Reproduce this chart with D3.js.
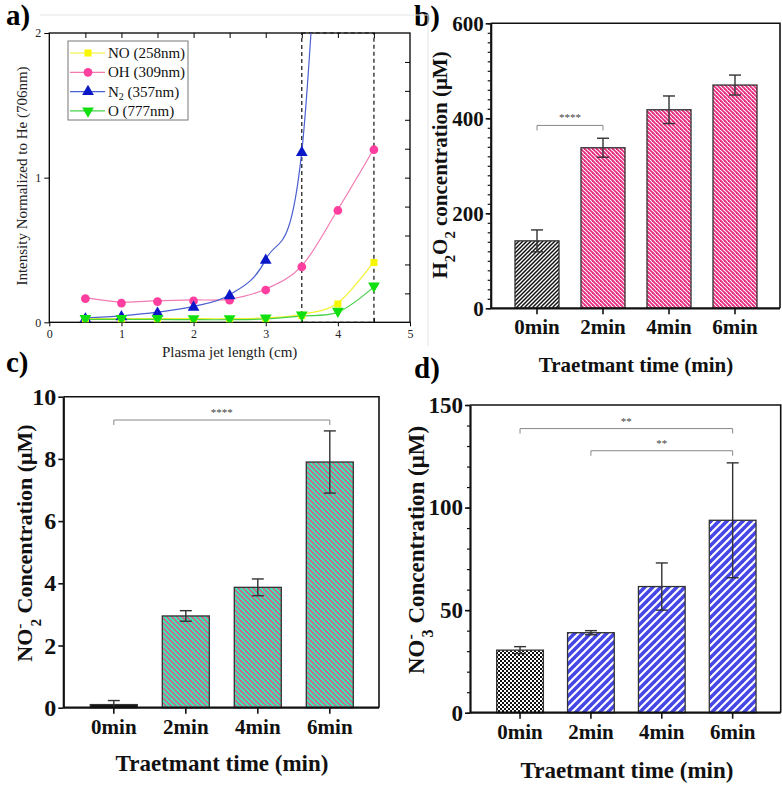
<!DOCTYPE html>
<html><head><meta charset="utf-8">
<script src="https://cdn.jsdelivr.net/npm/d3@7"></script>
<style>
body{margin:0;background:#fff}
svg{display:block}
text{font-family:"Liberation Serif","Times New Roman",serif}
</style>
</head><body>
<svg id="chart" width="782" height="785"></svg>
<script>
// ---------- data ----------
const jetLength = [0.5, 1, 1.5, 2, 2.5, 3, 3.5, 4, 4.5];
const NO  = [0.025, 0.025, 0.025, 0.025, 0.025, 0.03, 0.055, 0.134, 0.42];
const OH  = [0.17, 0.14, 0.15, 0.155, 0.16, 0.23, 0.39, 0.78, 1.20];
const N2  = [0.03, 0.045, 0.07, 0.11, 0.19, 0.435, 1.18, 5.0, 7.0];
const O   = [0.02, 0.02, 0.02, 0.018, 0.018, 0.023, 0.044, 0.07, 0.245];
const seriesNames = ["NO (258nm)", "OH (309nm)", "N2 (357nm)", "O (777nm)"];
const xTicksA = [0, 1, 2, 3, 4, 5];
const yTicksA = [0, 1, 2];

const times = ["0min", "2min", "4min", "6min"];
const h2o2    = [142, 338, 418, 470];
const h2o2Err = [23, 20, 29, 21];
const no2     = [0.1, 2.95, 3.87, 7.9];
const no2Err  = [0.13, 0.17, 0.27, 1.0];
const no3     = [30.5, 39, 61.5, 93.8];
const no3Err  = [1.7, 1.0, 11.5, 28];
const yTicksB = [0, 200, 400, 600];
const yTicksC = [0, 2, 4, 6, 8, 10];
const yTicksD = [0, 50, 100, 150];

// ---------- setup ----------
const svg = d3.select("#chart");
const defs = svg.append("defs");

// pixel-aligned diagonal stripe tile; dir "\\" or "/"
function diag(id, bg, fg, p, w, dir) {
  const pat = defs.append("pattern").attr("id", id)
    .attr("patternUnits", "userSpaceOnUse").attr("width", p).attr("height", p);
  pat.append("rect").attr("width", p).attr("height", p).attr("fill", bg);
  const h = w / 2;
  const polys = [
    [[0, 0], [h, 0], [p, p - h], [p, p], [p - h, p], [0, h]],
    [[p - h, 0], [p, 0], [p, h]],
    [[0, p - h], [0, p], [h, p]]
  ];
  const fx = dir === "/" ? (x => p - x) : (x => x);
  polys.forEach(pl => pat.append("polygon")
    .attr("points", pl.map(([x, y]) => `${fx(x)},${y}`).join(" "))
    .attr("fill", fg));
}
diag("pinkS", "#ffffff", "#e62e80", 4, 2.7, "\\");
diag("blackS", "#ffffff", "#111111", 4, 2.1, "/");
diag("tealS", "#3de6b6", "#e64e7e", 5, 1.9, "\\");
diag("blueS", "#ffffff", "#4646e6", 8, 5.0, "/");
const chk = defs.append("pattern").attr("id", "checkS")
  .attr("patternUnits", "userSpaceOnUse").attr("width", 4).attr("height", 4);
chk.append("rect").attr("width", 4).attr("height", 4).attr("fill", "#fff");
chk.append("rect").attr("width", 2).attr("height", 2).attr("fill", "#111");
chk.append("rect").attr("x", 2).attr("y", 2).attr("width", 2).attr("height", 2).attr("fill", "#111");

// panel letters
[["a)", 6, 25], ["b)", 414, 26], ["c)", 6, 372], ["d)", 414, 378]].forEach(([t, x, y]) => {
  svg.append("text").attr("x", x).attr("y", y).attr("font-size", 29)
    .attr("font-weight", "bold").text(t);
});

// ---------- panel a ----------
(function () {
  const L = 49.3, R = 410, T = 33, B = 322.3;
  const x = d3.scaleLinear().domain([0, 5]).range([L, R]);
  const y = d3.scaleLinear().domain([0, 2]).range([B, T]);
  const g = svg.append("g");

  // faint image border
  g.append("path").attr("d", `M40,15H428V346`).attr("fill", "none")
    .attr("stroke", "#e4e4e4").attr("stroke-width", 1);

  defs.append("clipPath").attr("id", "clipA").append("rect")
    .attr("x", L).attr("y", T).attr("width", R - L).attr("height", B - T);

  const style = (sel, fs) => {
    sel.select(".domain").remove();
    sel.selectAll("line").attr("stroke", "#000").attr("stroke-width", 1);
    sel.selectAll("text").attr("font-size", fs).attr("fill", "#222")
      .attr("font-family", "Liberation Serif");
  };
  const fmt = d3.format("d");
  g.append("g").attr("transform", `translate(0,${B})`)
    .call(d3.axisBottom(x).tickValues(xTicksA).tickFormat(fmt).tickSize(4).tickPadding(3))
    .call(s => style(s, 12));
  g.append("g").attr("transform", `translate(0,${B})`)
    .call(d3.axisTop(x).tickValues(d3.range(0.5, 5, 1)).tickSize(4).tickFormat(""))
    .call(s => style(s, 12));
  g.append("g").attr("transform", `translate(${L},0)`)
    .call(d3.axisLeft(y).tickValues(yTicksA).tickFormat(fmt).tickSize(5).tickPadding(3))
    .call(s => style(s, 12));
  g.append("g").attr("transform", `translate(0,${T})`)
    .call(d3.axisBottom(x).tickValues(d3.range(0.5, 5, 0.5)).tickSize(5).tickFormat(""))
    .call(s => style(s, 12));
  g.append("g").attr("transform", `translate(${R},0)`)
    .call(d3.axisLeft(y).tickValues(d3.range(0.2, 2, 0.2)).tickSize(5).tickFormat(""))
    .call(s => style(s, 12));
  g.append("rect").attr("x", L).attr("y", T).attr("width", R - L).attr("height", B - T)
    .attr("fill", "none").attr("stroke", "#000").attr("stroke-width", 1.3);

  // dashed region
  g.append("rect").attr("x", x(3.5)).attr("y", y(2)).attr("width", x(4.5) - x(3.5))
    .attr("height", y(0) - y(2)).attr("fill", "none").attr("stroke", "#111")
    .attr("stroke-width", 1.2).attr("stroke-dasharray", "4,3");

  const series = [
    { name: seriesNames[1], vals: OH, line: "#f27ab2", mark: "#ff3f9f", sym: d3.symbolCircle, size: 60, rot: 0 },
    { name: seriesNames[2], vals: N2, line: "#4a5fd0", mark: "#0a18c8", sym: d3.symbolTriangle, size: 60, rot: 0 },
    { name: seriesNames[0], vals: NO, line: "#f2f230", mark: "#f7f700", sym: d3.symbolSquare, size: 50, rot: 0 },
    { name: seriesNames[3], vals: O, line: "#46d046", mark: "#10e010", sym: d3.symbolTriangle, size: 60, rot: 180 }
  ];
  const line = d3.line().x((d, i) => x(jetLength[i])).y(d => y(d)).curve(d3.curveCardinal.tension(0));
  const plot = g.append("g").attr("clip-path", "url(#clipA)");
  series.forEach(s => {
    plot.append("path").attr("d", line(s.vals)).attr("fill", "none")
      .attr("stroke", s.line).attr("stroke-width", 1.2);
  });
  series.forEach(s => {
    plot.selectAll(null).data(s.vals).enter().append("path")
      .attr("d", d3.symbol().type(s.sym).size(s.size))
      .attr("transform", (d, i) => `translate(${x(jetLength[i])},${y(d) + (s.rot ? -1 : 1)}) rotate(${s.rot})`)
      .attr("fill", s.mark);
  });

  // legend
  const lg = g.append("g");
  lg.append("rect").attr("x", 68).attr("y", 41).attr("width", 120).attr("height", 79)
    .attr("fill", "#fff").attr("stroke", "#777").attr("stroke-width", 1);
  const legOrder = [series[2], series[0], series[1], series[3]];
  legOrder.forEach((s, i) => {
    const yy = 53 + i * 19.3;
    lg.append("line").attr("x1", 70).attr("x2", 105).attr("y1", yy).attr("y2", yy)
      .attr("stroke", s.line).attr("stroke-width", 1.2);
    lg.append("path").attr("d", d3.symbol().type(s.sym).size(s.size)())
      .attr("transform", `translate(88,${yy}) rotate(${s.rot})`).attr("fill", s.mark);
    const t = lg.append("text").attr("x", 108).attr("y", yy + 5).attr("font-size", 15).attr("fill", "#111");
    if (s.name.startsWith("N2")) {
      t.append("tspan").text("N");
      t.append("tspan").attr("font-size", 10).attr("dy", 3).text("2");
      t.append("tspan").attr("dy", -3).text(s.name.slice(2));
    } else t.text(s.name);
  });

  g.append("text").attr("x", (L + R) / 2).attr("y", 357).attr("text-anchor", "middle")
    .attr("font-size", 15).attr("fill", "#222").text("Plasma jet length (cm)");
  g.append("text").attr("transform", `translate(27,176) rotate(-90)`).attr("text-anchor", "middle")
    .attr("font-size", 15).attr("fill", "#222").text("Intensity Normalized to He (706nm)");
})();

// ---------- bar panels ----------
function barPanel(o) {
  const g = svg.append("g");
  const x = d3.scaleBand().domain(times).range(o.band).paddingInner(o.pin).paddingOuter(o.pin / 2);
  const y = d3.scaleLinear().domain(o.domain).range([o.B, o.T]);

  // bars
  g.selectAll(null).data(o.vals).enter().append("rect")
    .attr("x", (d, i) => x(times[i])).attr("width", x.bandwidth())
    .attr("y", d => y(d)).attr("height", d => y(0) - y(d))
    .attr("fill", (d, i) => o.fills[i]).attr("stroke", "#333").attr("stroke-width", 1.3);

  // error bars
  const eb = g.append("g").attr("stroke", "#333").attr("stroke-width", 1.4);
  o.vals.forEach((v, i) => {
    const cx = x(times[i]) + x.bandwidth() / 2;
    const lo = Math.max(o.domain[0], v - o.err[i]), hi = v + o.err[i];
    eb.append("line").attr("x1", cx).attr("x2", cx).attr("y1", y(lo)).attr("y2", y(hi));
    eb.append("line").attr("x1", cx - 6).attr("x2", cx + 6).attr("y1", y(hi)).attr("y2", y(hi));
    if (o.err[i] < v) eb.append("line").attr("x1", cx - 6).attr("x2", cx + 6).attr("y1", y(lo)).attr("y2", y(lo));
  });

  // frame
  g.append("path").attr("d", `M${o.L},${o.T}H${o.R}V${o.B}`).attr("fill", "none")
    .attr("stroke", "#111").attr("stroke-width", 1.6);

  // minor ticks
  if (o.minor) {
    g.append("g").attr("transform", `translate(${o.L},0)`)
      .call(d3.axisLeft(y).tickValues(d3.range(o.domain[0], o.domain[1] + 1e-9, o.minor)).tickSize(3).tickFormat(""))
      .call(s => { s.select(".domain").remove(); s.selectAll("line").attr("stroke", "#111").attr("stroke-width", 1.2); });
  }
  // y axis
  g.append("g").attr("transform", `translate(${o.L},0)`)
    .call(d3.axisLeft(y).tickValues(o.yticks).tickSize(5).tickPadding(2).tickSizeOuter(0))
    .call(s => {
      s.select(".domain").attr("stroke", "#111").attr("stroke-width", 2.2);
      s.selectAll(".tick line").attr("stroke", "#111").attr("stroke-width", 1.6);
      s.selectAll("text").attr("font-size", o.yfs).attr("font-weight", "bold")
        .attr("fill", "#111").attr("font-family", "Liberation Serif");
    });
  // x axis
  g.append("g").attr("transform", `translate(0,${o.B})`)
    .call(d3.axisBottom(x).tickSize(6).tickPadding(5).tickSizeOuter(0))
    .call(s => {
      s.select(".domain").attr("d", `M${o.L},0H${o.R}`).attr("stroke", "#111").attr("stroke-width", 2.2);
      s.selectAll(".tick line").attr("stroke", "#111").attr("stroke-width", 1.6);
      s.selectAll("text").attr("font-size", o.xfs).attr("font-weight", "bold")
        .attr("fill", "#111").attr("font-family", "Liberation Serif");
    });

  // significance brackets
  o.sig.forEach(sg => {
    const x1 = x(times[sg.a]) + x.bandwidth() / 2, x2 = x(times[sg.b]) + x.bandwidth() / 2;
    const yy = y(sg.y);
    g.append("path").attr("d", `M${x1},${yy + 5}V${yy}H${x2}V${yy + 5}`)
      .attr("fill", "none").attr("stroke", "#888").attr("stroke-width", 1);
    g.append("text").attr("x", (x1 + x2) / 2).attr("y", yy - 4).attr("text-anchor", "middle")
      .attr("font-size", 11).attr("fill", "#444").text(sg.label);
  });

  // axis titles
  g.append("text").attr("x", o.xlab[0]).attr("y", o.xlab[1]).attr("text-anchor", "middle")
    .attr("font-size", o.xlfs).attr("font-weight", "bold").attr("fill", "#111")
    .text("Traetmant time (min)");
  const yt = g.append("text").attr("transform", `translate(${o.ylab[0]},${o.ylab[1]}) rotate(-90)`)
    .attr("text-anchor", "middle").attr("font-size", o.ylfs).attr("font-weight", "bold").attr("fill", "#111");
  o.ylabParts.forEach(p => {
    const ts = yt.append("tspan").text(p.t);
    if (p.sub) ts.attr("font-size", o.ylfs * 0.7).attr("baseline-shift", "sub");
    if (p.sup) ts.attr("font-size", o.ylfs * 0.7).attr("baseline-shift", "super");
    if (p.dx) ts.attr("dx", p.dx);
  });
}

barPanel({
  L: 490.7, R: 780, T: 23.3, B: 308.3, band: [504, 768], pin: 0.333,
  domain: [0, 600], yticks: yTicksB, minor: 20,
  vals: h2o2, err: h2o2Err,
  fills: ["url(#blackS)", "url(#pinkS)", "url(#pinkS)", "url(#pinkS)"],
  sig: [{ a: 0, b: 1, y: 385, label: "****" }],
  yfs: 21, xfs: 21, xlfs: 21, ylfs: 21,
  xlab: [636, 372], ylab: [447, 165],
  ylabParts: [{ t: "H" }, { t: "2", sub: true }, { t: "O" }, { t: "2", sub: true }, { t: " concentration (μM)" }]
});

barPanel({
  L: 63.3, R: 379, T: 396.7, B: 707.7, band: [77.8, 365.8], pin: 0.347,
  domain: [0, 10], yticks: yTicksC, minor: 0,
  vals: no2, err: no2Err,
  fills: ["#111", "url(#tealS)", "url(#tealS)", "url(#tealS)"],
  sig: [{ a: 0, b: 3, y: 9.25, label: "****" }],
  yfs: 24, xfs: 21, xlfs: 23, ylfs: 22,
  xlab: [222, 771], ylab: [32, 543],
  ylabParts: [{ t: "NO" }, { t: "-", sup: true }, { t: "2", sub: true, dx: "-0.2em" }, { t: " Concentration (μM)" }]
});

barPanel({
  L: 470, R: 780.7, T: 405, B: 712.7, band: [484.6, 768.1], pin: 0.341,
  domain: [0, 150], yticks: yTicksD, minor: 10,
  vals: no3, err: no3Err,
  fills: ["url(#checkS)", "url(#blueS)", "url(#blueS)", "url(#blueS)"],
  sig: [{ a: 0, b: 3, y: 138.5, label: "**" }, { a: 1, b: 3, y: 127.7, label: "**" }],
  yfs: 23, xfs: 21, xlfs: 23, ylfs: 23,
  xlab: [627, 778], ylab: [424, 550],
  ylabParts: [{ t: "NO" }, { t: "-", sup: true }, { t: "3", sub: true, dx: "-0.2em" }, { t: " Concentration (μM)" }]
});
</script>
</body></html>
